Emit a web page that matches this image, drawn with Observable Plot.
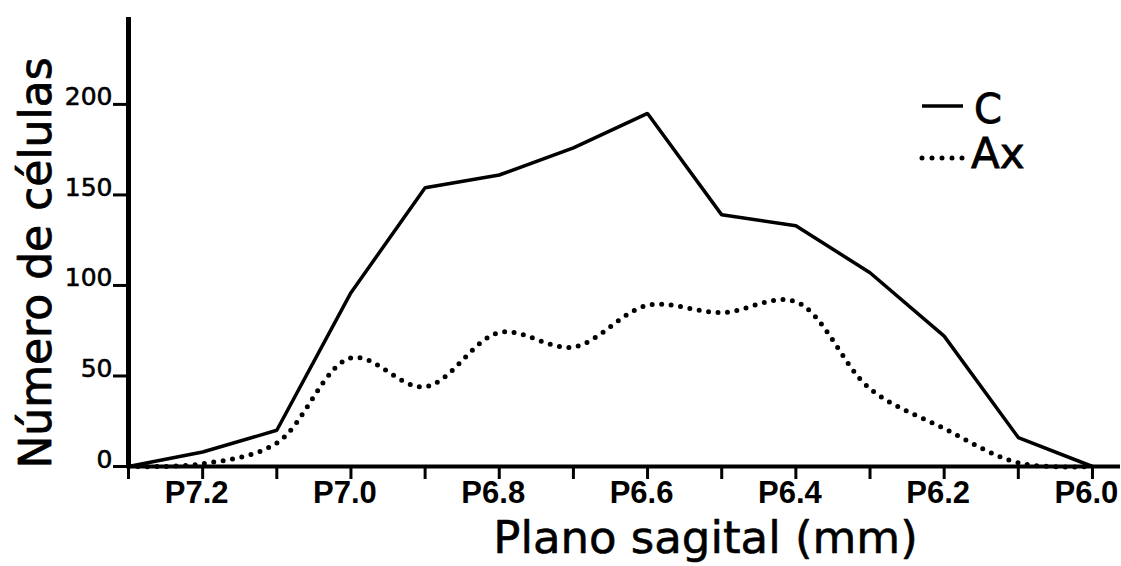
<!DOCTYPE html>
<html>
<head>
<meta charset="utf-8">
<script src="https://cdn.jsdelivr.net/npm/d3@7"></script>
<script src="https://cdn.jsdelivr.net/npm/@observablehq/plot@0.6"></script>
<style>
  html, body { margin: 0; padding: 0; background: white; }
  #wrap { position: relative; width: 1121px; height: 566px; }
  #legend { position: absolute; left: 900px; top: 80px; }
</style>
</head>
<body>
<div id="wrap"><div id="chart"></div>
<svg id="legend" width="200" height="100" xmlns="http://www.w3.org/2000/svg">
  <line x1="22" x2="63" y1="26" y2="26" stroke="black" stroke-width="3.5"/>
  <text x="74" y="43" font-family="DejaVu Sans" font-size="40" fill="black" stroke="black" stroke-width="0.8">C</text>
  <line x1="22" x2="63" y1="78" y2="78" stroke="black" stroke-width="5" stroke-dasharray="0 10" stroke-linecap="round"/>
  <text x="71" y="88" font-family="DejaVu Sans" font-size="42" fill="black" stroke="black" stroke-width="0.8">Ax</text>
</svg>
</div>
<script>
// Sagittal planes (mm, posterior)
const planes = [7.3, 7.2, 7.1, 7.0, 6.9, 6.8, 6.7, 6.6, 6.5, 6.4, 6.3, 6.2, 6.1, 6.0];
// Number of cells
const seriesC  = [0, 8, 20, 96, 154, 161, 176, 195, 139, 133, 107, 72, 16, 0];
const seriesAx = [0, 1.5, 13, 60, 44, 74, 66, 89, 85, 91, 43, 21, 2, 0];
const xTickMarks = [7.3, 7.2, 7.1, 7.0, 6.9, 6.8, 6.7, 6.6, 6.5, 6.4, 6.3, 6.2, 6.1, 6.0];
const xTickLabels = [7.2, 7.0, 6.8, 6.6, 6.4, 6.2, 6.0];
const yTicks = [0, 50, 100, 150, 200];
const yLabel = "Número de células";
const xLabel = "Plano sagital (mm)";

const dataC = planes.map((p, i) => ({p, v: seriesC[i]}));
const dataAx = planes.map((p, i) => ({p, v: seriesAx[i]}));

const chart = Plot.plot({
  width: 1121,
  height: 566,
  marginTop: 17,
  marginLeft: 128,
  marginRight: 1,
  marginBottom: 100,
  style: {fontFamily: "DejaVu Sans", background: "white", color: "black"},
  x: {domain: [7.3, 5.9622], axis: null},
  y: {domain: [0, 248], axis: null},
  marks: [
    Plot.ruleY([0], {strokeWidth: 4}),
    Plot.ruleX([7.3], {strokeWidth: 5}),
    Plot.axisX({ticks: xTickMarks, tickSize: 13, strokeWidth: 3, tickFormat: () => "", label: null}),
    Plot.axisY({ticks: yTicks, tickSize: 15, strokeWidth: 3, tickFormat: () => "", label: null}),
    Plot.text(xTickLabels, {x: d => d, text: d => "P" + d.toFixed(1), frameAnchor: "bottom",
      lineAnchor: "top", dy: 14, dx: -6, fontSize: 31, fontWeight: "bold",
      fontFamily: "Liberation Sans"}),
    Plot.text(yTicks, {y: d => d, text: d => String(d), frameAnchor: "left",
      textAnchor: "end", lineAnchor: "bottom", dx: -16, dy: 1, fontSize: 25,
      fill: "black", stroke: "black", strokeWidth: 0.6}),
    Plot.line(dataC, {x: "p", y: "v", strokeWidth: 3.5, strokeLinejoin: "miter"}),
    Plot.line(dataAx, {x: "p", y: "v", curve: "catmull-rom", strokeWidth: 5,
      strokeDasharray: "0 9.5", strokeLinecap: "round"}),
    Plot.text([yLabel], {frameAnchor: "left", rotate: -90, textAnchor: "middle",
      lineAnchor: "bottom", dx: -78, dy: 21, fontSize: 44,
      fill: "black", stroke: "black", strokeWidth: 0.8}),
    Plot.text([xLabel], {frameAnchor: "bottom", textAnchor: "middle",
      lineAnchor: "bottom", dx: 81, dy: 86, fontSize: 45,
      fill: "black", stroke: "black", strokeWidth: 0.6})
  ]
});
document.getElementById("chart").appendChild(chart);
</script>
</body>
</html>
